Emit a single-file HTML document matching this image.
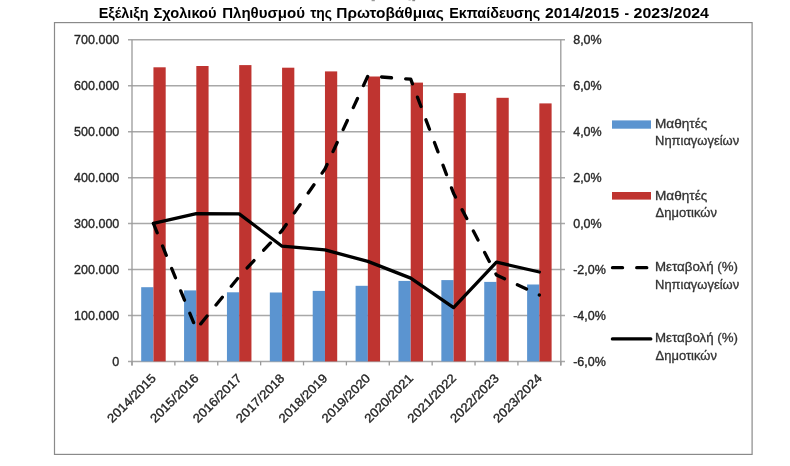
<!DOCTYPE html><html><head><meta charset="utf-8"><style>
html,body{margin:0;padding:0;background:#fff;width:790px;height:466px;overflow:hidden}
svg{display:block;will-change:transform}text{font-family:"Liberation Sans",sans-serif}
</style></head><body>
<svg width="790" height="466" viewBox="0 0 790 466">
<rect x="0" y="0" width="790" height="466" fill="#fff"/>
<g font-size="14.3" font-weight="bold" fill="#000">
<text x="98.69" y="18.2" textLength="49.81" lengthAdjust="spacingAndGlyphs">Εξέλιξη</text>
<text x="153.43" y="18.2" textLength="63.20" lengthAdjust="spacingAndGlyphs">Σχολικού</text>
<text x="222.15" y="18.2" textLength="82.83" lengthAdjust="spacingAndGlyphs">Πληθυσμού</text>
<text x="310.16" y="18.2" textLength="21.89" lengthAdjust="spacingAndGlyphs">της</text>
<text x="336.32" y="18.2" textLength="107.52" lengthAdjust="spacingAndGlyphs">Πρωτοβάθμιας</text>
<text x="449.20" y="18.2" textLength="90.95" lengthAdjust="spacingAndGlyphs">Εκπαίδευσης</text>
<text x="545.05" y="18.2" textLength="74.33" lengthAdjust="spacingAndGlyphs">2014/2015</text>
<text x="624.52" y="18.2" textLength="4.58" lengthAdjust="spacingAndGlyphs">-</text>
<text x="633.64" y="18.2" textLength="75.36" lengthAdjust="spacingAndGlyphs">2023/2024</text>
</g>
<rect x="371.6" y="0" width="3.2" height="1.2" fill="#9a9a9a"/><rect x="412.3" y="0" width="2.8" height="1.2" fill="#8a8a8a"/><rect x="408.5" y="0" width="2.2" height="1" fill="#d0d0d0"/>
<rect x="54.5" y="22.6" width="697.6" height="431.8" fill="none" stroke="#8A8A8A" stroke-width="1.2"/>
<line x1="128" y1="361.40" x2="565" y2="361.40" stroke="#A8A8A8" stroke-width="1.5"/>
<line x1="128" y1="315.46" x2="565" y2="315.46" stroke="#A8A8A8" stroke-width="1.5"/>
<line x1="128" y1="269.51" x2="565" y2="269.51" stroke="#A8A8A8" stroke-width="1.5"/>
<line x1="128" y1="223.57" x2="565" y2="223.57" stroke="#A8A8A8" stroke-width="1.5"/>
<line x1="128" y1="177.63" x2="565" y2="177.63" stroke="#A8A8A8" stroke-width="1.5"/>
<line x1="128" y1="131.69" x2="565" y2="131.69" stroke="#A8A8A8" stroke-width="1.5"/>
<line x1="128" y1="85.74" x2="565" y2="85.74" stroke="#A8A8A8" stroke-width="1.5"/>
<line x1="128" y1="39.80" x2="565" y2="39.80" stroke="#A8A8A8" stroke-width="1.5"/>
<line x1="132.0" y1="39.80" x2="132.0" y2="365.4" stroke="#9A9A9A" stroke-width="1.3"/>
<line x1="560.8" y1="39.80" x2="560.8" y2="365.4" stroke="#9A9A9A" stroke-width="1.3"/>
<line x1="132.00" y1="361.40" x2="132.00" y2="365.4" stroke="#9A9A9A" stroke-width="1.3"/>
<line x1="174.88" y1="361.40" x2="174.88" y2="365.4" stroke="#9A9A9A" stroke-width="1.3"/>
<line x1="217.76" y1="361.40" x2="217.76" y2="365.4" stroke="#9A9A9A" stroke-width="1.3"/>
<line x1="260.64" y1="361.40" x2="260.64" y2="365.4" stroke="#9A9A9A" stroke-width="1.3"/>
<line x1="303.52" y1="361.40" x2="303.52" y2="365.4" stroke="#9A9A9A" stroke-width="1.3"/>
<line x1="346.40" y1="361.40" x2="346.40" y2="365.4" stroke="#9A9A9A" stroke-width="1.3"/>
<line x1="389.28" y1="361.40" x2="389.28" y2="365.4" stroke="#9A9A9A" stroke-width="1.3"/>
<line x1="432.16" y1="361.40" x2="432.16" y2="365.4" stroke="#9A9A9A" stroke-width="1.3"/>
<line x1="475.04" y1="361.40" x2="475.04" y2="365.4" stroke="#9A9A9A" stroke-width="1.3"/>
<line x1="517.92" y1="361.40" x2="517.92" y2="365.4" stroke="#9A9A9A" stroke-width="1.3"/>
<line x1="560.80" y1="361.40" x2="560.80" y2="365.4" stroke="#9A9A9A" stroke-width="1.3"/>
<rect x="141.19" y="287.20" width="12.25" height="74.20" fill="#5B94D0"/>
<rect x="153.44" y="67.30" width="12.25" height="294.10" fill="#BF3430"/>
<rect x="184.07" y="290.40" width="12.25" height="71.00" fill="#5B94D0"/>
<rect x="196.32" y="66.00" width="12.25" height="295.40" fill="#BF3430"/>
<rect x="226.95" y="292.30" width="12.25" height="69.10" fill="#5B94D0"/>
<rect x="239.20" y="65.10" width="12.25" height="296.30" fill="#BF3430"/>
<rect x="269.83" y="292.50" width="12.25" height="68.90" fill="#5B94D0"/>
<rect x="282.08" y="67.70" width="12.25" height="293.70" fill="#BF3430"/>
<rect x="312.71" y="290.90" width="12.25" height="70.50" fill="#5B94D0"/>
<rect x="324.96" y="71.40" width="12.25" height="290.00" fill="#BF3430"/>
<rect x="355.59" y="285.80" width="12.25" height="75.60" fill="#5B94D0"/>
<rect x="367.84" y="76.50" width="12.25" height="284.90" fill="#BF3430"/>
<rect x="398.47" y="280.90" width="12.25" height="80.50" fill="#5B94D0"/>
<rect x="410.72" y="82.60" width="12.25" height="278.80" fill="#BF3430"/>
<rect x="441.35" y="280.10" width="12.25" height="81.30" fill="#5B94D0"/>
<rect x="453.60" y="93.10" width="12.25" height="268.30" fill="#BF3430"/>
<rect x="484.23" y="281.90" width="12.25" height="79.50" fill="#5B94D0"/>
<rect x="496.48" y="97.80" width="12.25" height="263.60" fill="#BF3430"/>
<rect x="527.11" y="284.50" width="12.25" height="76.90" fill="#5B94D0"/>
<rect x="539.36" y="103.40" width="12.25" height="258.00" fill="#BF3430"/>
<polyline points="153.44,223.50 196.32,329.30 239.20,276.50 282.08,230.50 324.96,169.00 367.84,76.00 410.72,79.20 453.60,193.50 496.48,275.00 539.36,295.00" fill="none" stroke="#000" stroke-width="3.3" stroke-linejoin="round" stroke-linecap="round" stroke-dasharray="10.05 14.18"/>
<polyline points="153.44,223.40 196.32,213.70 239.20,213.90 282.08,246.20 324.96,249.90 367.84,261.40 410.72,278.10 453.60,307.60 496.48,262.20 539.36,272.00" fill="none" stroke="#000" stroke-width="3.3" stroke-linejoin="round" stroke-linecap="round"/>
<g font-size="12.5" fill="#262626" stroke="#262626" stroke-width="0.35">
<text x="119.3" y="365.88" text-anchor="end">0</text>
<text x="119.3" y="319.93" text-anchor="end">100.000</text>
<text x="119.3" y="273.99" text-anchor="end">200.000</text>
<text x="119.3" y="228.05" text-anchor="end">300.000</text>
<text x="119.3" y="182.10" text-anchor="end">400.000</text>
<text x="119.3" y="136.16" text-anchor="end">500.000</text>
<text x="119.3" y="90.22" text-anchor="end">600.000</text>
<text x="119.3" y="44.28" text-anchor="end">700.000</text>
<text x="573.2" y="44.28">8,0%</text>
<text x="573.2" y="90.22">6,0%</text>
<text x="573.2" y="136.16">4,0%</text>
<text x="573.2" y="182.10">2,0%</text>
<text x="573.2" y="228.05">0,0%</text>
<text x="573.2" y="273.99">-2,0%</text>
<text x="573.2" y="319.93">-4,0%</text>
<text x="573.2" y="365.88">-6,0%</text>
</g>
<g font-size="12.5" fill="#262626" stroke="#262626" stroke-width="0.35">
<text x="0" y="0" text-anchor="end" textLength="62.8" lengthAdjust="spacingAndGlyphs" transform="translate(153.54,375.90) rotate(-45) translate(0,4.47)">2014/2015</text>
<text x="0" y="0" text-anchor="end" textLength="62.8" lengthAdjust="spacingAndGlyphs" transform="translate(196.42,375.90) rotate(-45) translate(0,4.47)">2015/2016</text>
<text x="0" y="0" text-anchor="end" textLength="62.8" lengthAdjust="spacingAndGlyphs" transform="translate(239.30,375.90) rotate(-45) translate(0,4.47)">2016/2017</text>
<text x="0" y="0" text-anchor="end" textLength="62.8" lengthAdjust="spacingAndGlyphs" transform="translate(282.18,375.90) rotate(-45) translate(0,4.47)">2017/2018</text>
<text x="0" y="0" text-anchor="end" textLength="62.8" lengthAdjust="spacingAndGlyphs" transform="translate(325.06,375.90) rotate(-45) translate(0,4.47)">2018/2019</text>
<text x="0" y="0" text-anchor="end" textLength="62.8" lengthAdjust="spacingAndGlyphs" transform="translate(367.94,375.90) rotate(-45) translate(0,4.47)">2019/2020</text>
<text x="0" y="0" text-anchor="end" textLength="62.8" lengthAdjust="spacingAndGlyphs" transform="translate(410.82,375.90) rotate(-45) translate(0,4.47)">2020/2021</text>
<text x="0" y="0" text-anchor="end" textLength="62.8" lengthAdjust="spacingAndGlyphs" transform="translate(453.70,375.90) rotate(-45) translate(0,4.47)">2021/2022</text>
<text x="0" y="0" text-anchor="end" textLength="62.8" lengthAdjust="spacingAndGlyphs" transform="translate(496.58,375.90) rotate(-45) translate(0,4.47)">2022/2023</text>
<text x="0" y="0" text-anchor="end" textLength="62.8" lengthAdjust="spacingAndGlyphs" transform="translate(539.46,375.90) rotate(-45) translate(0,4.47)">2023/2024</text>
</g>
<rect x="612" y="120.4" width="39" height="8.3" fill="#5B94D0"/>
<rect x="612" y="192" width="39" height="7.6" fill="#BF3430"/>
<line x1="612.5" y1="267.7" x2="650.5" y2="267.7" stroke="#000" stroke-width="3.3" stroke-linecap="round" stroke-dasharray="10.05 14.18"/>
<line x1="612.4" y1="338.9" x2="650.8" y2="338.9" stroke="#000" stroke-width="3.3" stroke-linecap="round"/>
<g font-size="12.5" fill="#333333" stroke="#333333" stroke-width="0.3">
<text x="655.01" y="127.6" textLength="52.35" lengthAdjust="spacingAndGlyphs">Μαθητές</text>
<text x="655.07" y="144.9" textLength="84.04" lengthAdjust="spacingAndGlyphs">Νηπιαγωγείων</text>
<text x="655.01" y="199.9" textLength="52.35" lengthAdjust="spacingAndGlyphs">Μαθητές</text>
<text x="655.58" y="216.9" textLength="61.29" lengthAdjust="spacingAndGlyphs">Δημοτικών</text>
<text x="655.04" y="271.2" textLength="82.86" lengthAdjust="spacingAndGlyphs">Μεταβολή (%)</text>
<text x="655.07" y="288.9" textLength="84.04" lengthAdjust="spacingAndGlyphs">Νηπιαγωγείων</text>
<text x="655.04" y="342.4" textLength="82.86" lengthAdjust="spacingAndGlyphs">Μεταβολή (%)</text>
<text x="655.58" y="360.0" textLength="61.29" lengthAdjust="spacingAndGlyphs">Δημοτικών</text>
</g>
</svg></body></html>
